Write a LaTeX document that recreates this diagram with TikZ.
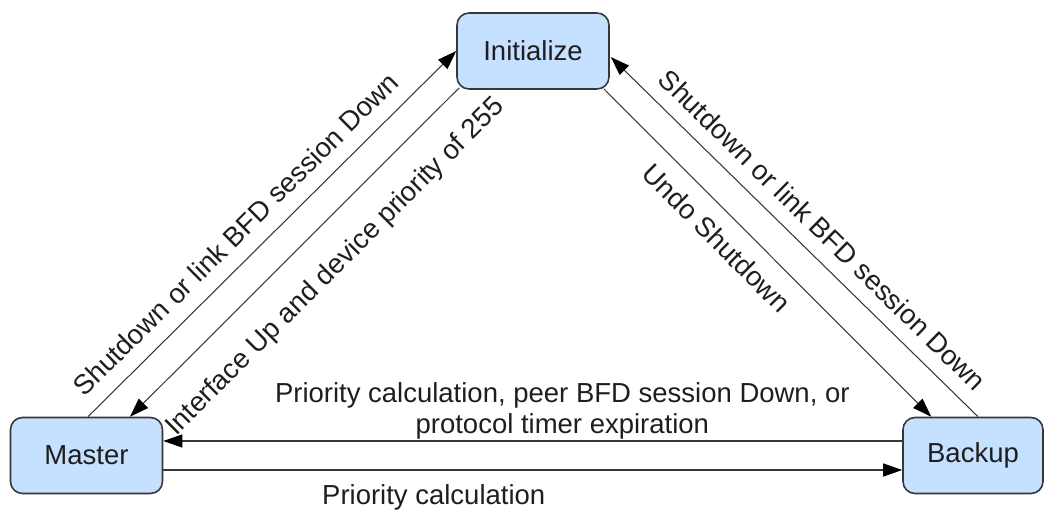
\documentclass[tikz,border=0pt]{standalone}
\usepackage{fontspec}
\setmainfont{Liberation Sans}
\usetikzlibrary{arrows.meta}
\definecolor{boxfill}{RGB}{198,224,255}
\definecolor{boxline}{RGB}{55,55,55}
\definecolor{txtgray}{RGB}{30,30,30}
\tikzset{
 stbox/.style={draw=boxline, fill=boxfill, line width=0.9pt, rounded corners=0.24cm,
  minimum width=3.04cm, minimum height=1.52cm, font=\fontsize{15.65}{17.6}\selectfont, text=txtgray},
 trans/.style={draw=boxline, line width=0.6pt, -{Triangle[length=0.38cm,width=0.26cm,color=black]}},
 lbl/.style={font=\fontsize{15.65}{17.6}\selectfont, text=txtgray, inner sep=0pt}
}
\begin{document}
\begin{tikzpicture}[x=0.02cm,y=-0.02cm]
 \useasboundingbox (0,0) rectangle (1045,510);
 \node[stbox] (init) at (533,51) {Initialize};
 \node[stbox] (master) at (86.5,455.5) {Master};
 \node[stbox, minimum width=2.8cm] (backup) at (973,455.5) {Backup};
 \draw[trans] ([shift={(1.5,0)}]master.north) -- node[lbl, sloped, above=8.5pt, pos=0.45] {Shutdown or link BFD session Down} (init.west);
 \draw[trans] ([shift={(3,-2)}]init.south west) -- node[lbl, sloped, below=15pt, pos=0.46] {Interface Up and device priority of 255} ([shift={(43.5,0)}]master.north);
 \draw[trans] ([shift={(-6,-1)}]init.south east) -- node[lbl, sloped, below=8.5pt, pos=0.4] {Undo Shutdown} ([shift={(29,0)}]backup.north west);
 \draw[trans] ([shift={(5,0)}]backup.north) -- node[lbl, sloped, above=8pt, pos=0.47] {Shutdown or link BFD session Down} ([shift={(1,6)}]init.east);
 \draw[trans] ([shift={(0,-14.5)}]backup.west) -- node[lbl, above=1pt, pos=0.46, align=center] {Priority calculation, peer BFD session Down, or\\protocol timer expiration} ([shift={(0,-14.5)}]master.east);
 \draw[trans] ([shift={(0,14.5)}]master.east) -- node[lbl, below=8pt, pos=0.366] {Priority calculation} ([shift={(0,14.5)}]backup.west);
\end{tikzpicture}
\end{document}
